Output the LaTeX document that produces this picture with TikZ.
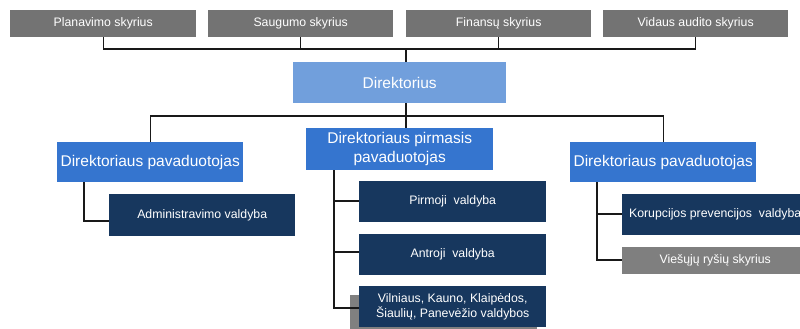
\documentclass[tikz,border=0pt]{standalone}
\usepackage{fontspec}
\setmainfont{Liberation Sans}
\definecolor{topgray}{RGB}{115,115,115}
\definecolor{midgray}{RGB}{127,127,127}
\definecolor{shadowgray}{RGB}{128,128,128}
\definecolor{lightblue}{RGB}{113,159,220}
\definecolor{midblue}{RGB}{53,117,207}
\definecolor{navy}{RGB}{23,55,94}
\definecolor{linec}{RGB}{25,25,25}
\begin{document}
\begin{tikzpicture}[x=1pt,y=-1pt,
  bx/.style 2 args={rectangle, inner sep=0pt, anchor=north west, text=white, align=center,
    minimum width=#1, minimum height=#2},
  topbox/.style={fill=topgray, font=\fontsize{12.3}{14}\selectfont},
  dirbox/.style={fill=lightblue, font=\fontsize{15.5}{18}\selectfont},
  depbox/.style={fill=midblue, font=\fontsize{15.5}{18.5}\selectfont},
  unitbox/.style={fill=navy, font=\fontsize{12.3}{14.5}\selectfont},
  graybox/.style={fill=midgray, font=\fontsize{12.3}{14.5}\selectfont},
  conn/.style={draw=linec, line width=1.4pt}
]
\useasboundingbox (0,0) rectangle (800,329);
\clip (0,0) rectangle (800,329);
\fill[white] (0,0) rectangle (800,329);

% top departments
\node[bx={186}{27}, topbox] (p1) at (10,10) {Planavimo skyrius};
\node[bx={185}{27}, topbox] (p2) at (208,10) {Saugumo skyrius};
\node[bx={185}{27}, topbox] (p3) at (406,10) {Finansų skyrius};
\node[bx={185}{27}, topbox] (p4) at (603,10) {Vidaus audito skyrius};

% director
\node[bx={213}{41}, dirbox] (dir) at (293,62) {Direktorius};

% deputies
\node[bx={186}{40}, depbox] (dl) at (57,142) {Direktoriaus pavaduotojas};
\node[bx={187}{42}, depbox] (dm) at (306,128) {Direktoriaus pirmasis\\pavaduotojas};
\node[bx={186}{40}, depbox] (dr) at (570,142) {Direktoriaus pavaduotojas};

% units
\node[bx={186}{42}, unitbox] (adm) at (109,194) {Administravimo valdyba};
\node[bx={187}{41}, unitbox] (pir) at (359,181) {Pirmoji\ \ valdyba};
\node[bx={187}{41}, unitbox] (ant) at (359,234) {Antroji\ \ valdyba};
\node[bx={187}{41}, fill=shadowgray] (vilsh) at (350,295) {};
\node[bx={187}{41}, unitbox] (vil) at (359,286) {Vilniaus, Kauno, Klaipėdos,\\Šiaulių, Panevėžio valdybos};
\node[bx={186}{41}, unitbox] (kor) at (622,194) {Korupcijos prevencijos\ \ valdyba};
\node[bx={186}{27}, graybox] (vie) at (622,247) {Viešųjų ryšių skyrius};

% connector helper coordinates
\coordinate (tb) at (0,49);
\coordinate (dx) at (406,0);
\coordinate (db) at (0,116);
\coordinate (la) at (84,221);
\coordinate (mx) at (334,0);
\coordinate (m1) at (334,201);
\coordinate (m2) at (334,252);
\coordinate (m3) at (334,308);
\coordinate (rx) at (597,0);
\coordinate (r1) at (597,214);
\coordinate (r2) at (597,260);

% top bus
\draw[conn] (p1.south) |- (tb -| p4.south) -- (p4.south);
\draw[conn] (p2.south) -- (p2.south |- tb);
\draw[conn] (p3.south) -- (p3.south |- tb);
\draw[conn] (tb -| dx) -- (dir.north -| dx);

% director to deputies
\draw[conn] (dir.south -| dx) -- (dm.north -| dx);
\draw[conn] (dl.north) |- (db -| dx) -| (dr.north);

% left branch
\draw[conn] (dl.south -| la) |- (la -| adm.west);

% middle branch
\draw[conn] (dm.south -| mx) -- (m3) -- (m3 -| vil.west);
\draw[conn] (m1) -- (m1 -| pir.west);
\draw[conn] (m2) -- (m2 -| ant.west);

% right branch
\draw[conn] (dr.south -| rx) -- (r2) -- (r2 -| vie.west);
\draw[conn] (r1) -- (r1 -| kor.west);
\end{tikzpicture}
\end{document}
